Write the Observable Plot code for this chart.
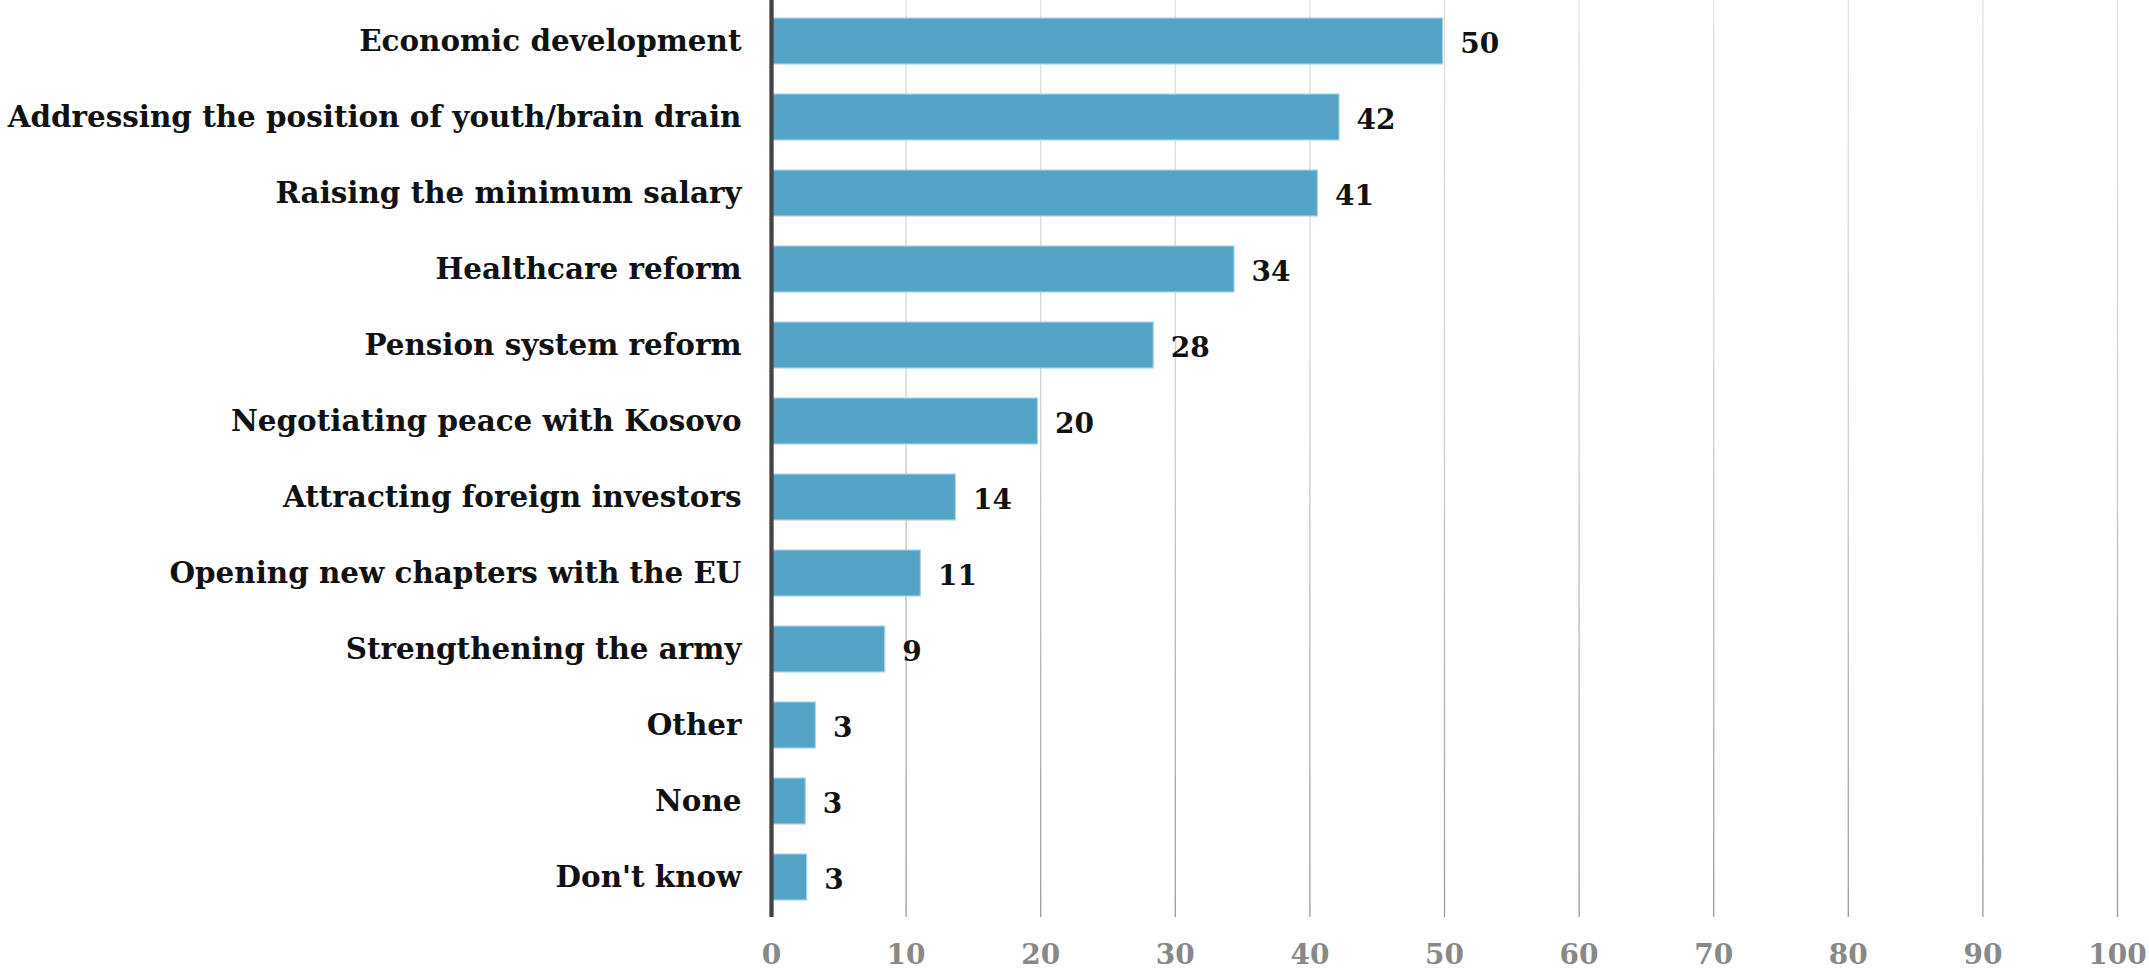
<!DOCTYPE html>
<html>
<head>
<meta charset="utf-8">
<script src="https://cdn.jsdelivr.net/npm/d3@7"></script>
<script src="https://cdn.jsdelivr.net/npm/@observablehq/plot@0.6"></script>
<style>
  html, body { margin: 0; padding: 0; background: #fff; }
  #chart svg { display: block; }
</style>
</head>
<body>
<div id="chart"></div>
<script>
// Categories, top to bottom
const categories = [
  "Economic development",
  "Addressing the position of youth/brain drain",
  "Raising the minimum salary",
  "Healthcare reform",
  "Pension system reform",
  "Negotiating peace with Kosovo",
  "Attracting foreign investors",
  "Opening new chapters with the EU",
  "Strengthening the army",
  "Other",
  "None",
  "Don't know"
];
// Bar lengths (percent)
const values = [49.9, 42.2, 40.6, 34.4, 28.4, 19.8, 13.7, 11.1, 8.45, 3.3, 2.55, 2.65];
// Printed value labels
const valueLabels = ["50", "42", "41", "34", "28", "20", "14", "11", "9", "3", "3", "3"];
// X-axis ticks
const xTicks = [0, 10, 20, 30, 40, 50, 60, 70, 80, 90, 100];
const gridTicks = [10, 20, 30, 40, 50, 60, 70, 80, 90, 100];

const data = categories.map((c, i) => ({category: c, value: values[i], label: valueLabels[i]}));

const FONT = "'DejaVu Serif', 'Liberation Serif', serif";

const chart = Plot.plot({
  width: 2149,
  height: 973,
  marginTop: 0,
  marginBottom: 56,
  marginLeft: 771,
  marginRight: 32,
  style: {fontFamily: FONT, background: "#fff", overflow: "visible"},
  x: {domain: [0, 100], ticks: xTicks},
  y: {domain: categories, paddingInner: 0.4, paddingOuter: 0.2},
  marks: [
    Plot.ruleX(gridTicks, {stroke: "url(#gridGrad)", strokeWidth: 1.3}),
    Plot.barX(data, {
      x: "value", y: "category",
      fill: "#53a4c6", stroke: "#a9d6e8", strokeWidth: 1.2
    }),
    Plot.text(data, {
      x: "value", y: "category", text: "label",
      dx: 17, dy: 3, textAnchor: "start",
      fontSize: 28, fontWeight: "bold", fill: "#111"
    }),
    Plot.ruleX([0], {stroke: "#444", strokeWidth: 4.3}),
    Plot.axisY({
      tickSize: 0, tickPadding: 30, label: null,
      fontSize: 29.4, fontWeight: "bold", fill: "#111"
    }),
    Plot.axisX({
      ticks: xTicks, tickSize: 0, tickPadding: 27, label: null,
      fontSize: 28, fontWeight: "bold", fill: "#888",
      tickFormat: d => String(d)
    })
  ]
});

// gradient for gridlines: light at top, darker toward the bottom
const svg = d3.select(chart);
const defs = svg.insert("defs", ":first-child");
const g = defs.append("linearGradient")
  .attr("id", "gridGrad")
  .attr("gradientUnits", "userSpaceOnUse")
  .attr("x1", 0).attr("y1", 0).attr("x2", 0).attr("y2", 917);
g.append("stop").attr("offset", "0%").attr("stop-color", "#e2e2e2");
g.append("stop").attr("offset", "45%").attr("stop-color", "#d0d0d0");
g.append("stop").attr("offset", "100%").attr("stop-color", "#9a9a9a");

document.getElementById("chart").appendChild(chart);
</script>
</body>
</html>
